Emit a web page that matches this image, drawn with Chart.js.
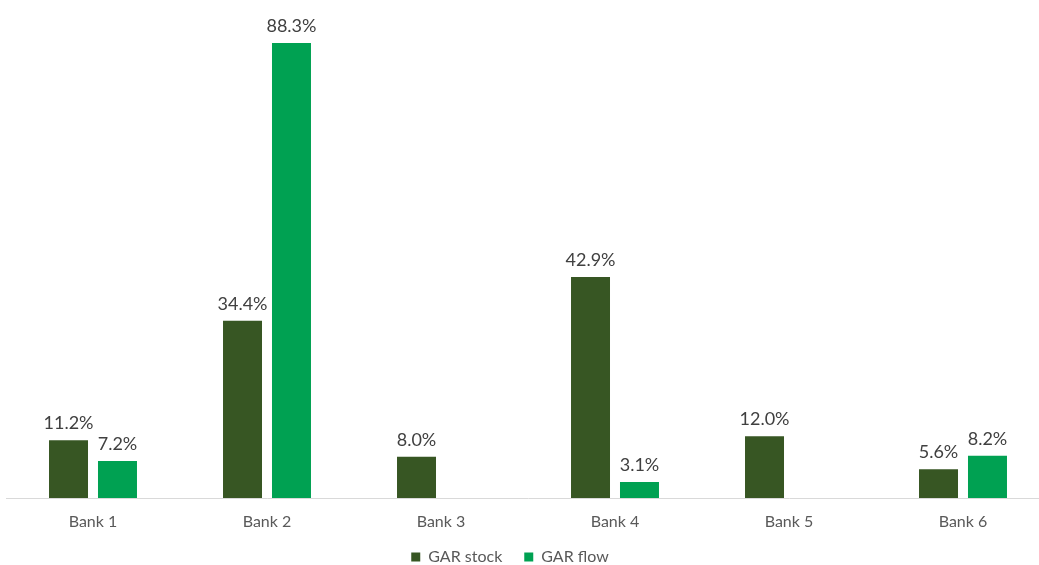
<!DOCTYPE html>
<html>
<head>
<meta charset="utf-8">
<script src="https://cdn.jsdelivr.net/npm/chart.js@4/dist/chart.umd.min.js"></script>
<style>
  html, body { margin: 0; padding: 0; background: #ffffff; overflow: hidden; width: 1039px; height: 565px; }
  canvas { display: block; }
</style>
</head>
<body>
<canvas id="c" width="1060" height="565"></canvas>
<script>
const categories = ['Bank 1', 'Bank 2', 'Bank 3', 'Bank 4', 'Bank 5', 'Bank 6'];
const garStock = [11.2, 34.4, 8.0, 42.9, 12.0, 5.6];
const garFlow = [7.2, 88.3, null, 3.1, null, 8.2];
const seriesNames = ['GAR stock', 'GAR flow'];

const FONT = 'Lato, "Open Sans", sans-serif';

const valueLabels = {
  id: 'valueLabels',
  afterDatasetsDraw(chart) {
    const ctx = chart.ctx;
    ctx.save();
    ctx.font = '18px ' + FONT;
    ctx.fillStyle = '#404040';
    ctx.textAlign = 'center';
    ctx.textBaseline = 'bottom';
    chart.data.datasets.forEach((ds, i) => {
      const meta = chart.getDatasetMeta(i);
      meta.data.forEach((el, j) => {
        const v = ds.data[j];
        if (v === null || v === undefined) return;
        ctx.fillText(v.toFixed(1) + '%', el.x, el.y - 8);
      });
    });
    ctx.restore();
  }
};

const shiftLegend = {
  id: 'shiftLegend',
  afterLayout(chart) {
    if (chart.legend) {
      chart.legend.left -= 18;
      chart.legend.right -= 18;
    }
  }
};

new Chart(document.getElementById('c'), {
  type: 'bar',
  data: {
    labels: categories,
    datasets: [
      { label: seriesNames[0], data: garStock, backgroundColor: '#375623', borderWidth: 0 },
      { label: seriesNames[1], data: garFlow, backgroundColor: '#00A152', borderWidth: 0 }
    ]
  },
  options: {
    responsive: false,
    devicePixelRatio: 1,
    animation: false,
    categoryPercentage: 0.563,
    barPercentage: 0.796,
    layout: { padding: { left: 6, right: 10, top: 10, bottom: -10 } },
    scales: {
      x: {
        grid: { display: false, drawTicks: false },
        border: { display: true, color: '#d9d9d9', width: 1 },
        ticks: { color: '#595959', font: { family: FONT, size: 16 }, padding: 14 },
        afterFit(scale) { scale.height = 29; }
      },
      y: {
        display: false,
        min: 0,
        max: 94.7
      }
    },
    plugins: {
      legend: {
        position: 'bottom',
        labels: {
          color: '#595959',
          font: { family: FONT, size: 16 },
          boxWidth: 9,
          boxHeight: 9,
          padding: 22
        }
      },
      tooltip: { enabled: false }
    }
  },
  plugins: [valueLabels, shiftLegend]
});
</script>
</body>
</html>
